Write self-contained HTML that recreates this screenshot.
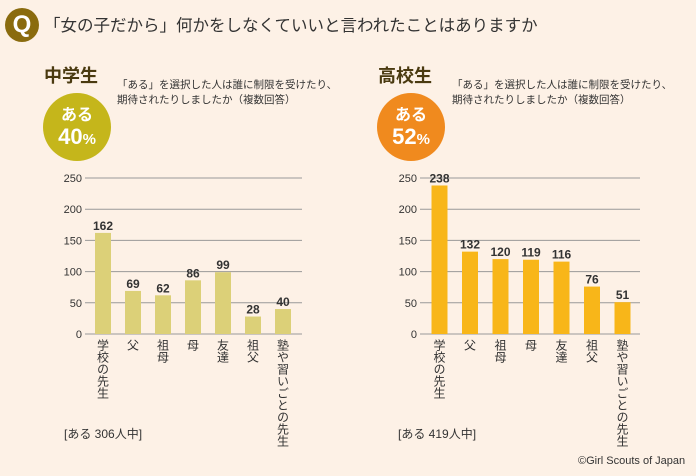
<!DOCTYPE html>
<html><head><meta charset="utf-8"><style>
body{margin:0;width:696px;height:476px;background:#fdf1e6;font-family:"Liberation Sans","Noto Sans CJK JP",sans-serif;position:relative;overflow:hidden;color:#333}
.a{position:absolute}
</style></head><body>
<div class="a" style="left:5px;top:8px;width:34px;height:34px;border-radius:50%;background:#8a6b0e;color:#fff;font-weight:bold;font-size:24px;line-height:34px;text-align:center">Q</div>
<div class="a" style="left:44px;top:12px;font-size:16.5px;color:#333;white-space:nowrap">「女の子だから」何かをしなくていいと言われたことはありますか</div>

<div class="a" style="left:44px;top:62px;font-size:18px;font-weight:bold;color:#4a3a10">中学生</div>
<div class="a" style="left:117px;top:78px;font-size:10.5px;line-height:15px;white-space:nowrap">「ある」を選択した人は誰に制限を受けたり、<br>期待されたりしましたか（複数回答）</div>
<div class="a" style="left:43px;top:93px;width:68px;height:68px;border-radius:50%;background:#c5b61b;color:#fff;text-align:center;font-weight:bold"><div style="font-size:16px;margin-top:8px">ある</div><div style="font-size:22px;line-height:24px">40<span style="font-size:15px">%</span></div></div>

<div class="a" style="left:378px;top:62px;font-size:18px;font-weight:bold;color:#4a3a10">高校生</div>
<div class="a" style="left:452px;top:78px;font-size:10.5px;line-height:15px;white-space:nowrap">「ある」を選択した人は誰に制限を受けたり、<br>期待されたりしましたか（複数回答）</div>
<div class="a" style="left:377px;top:93px;width:68px;height:68px;border-radius:50%;background:#f08a1e;color:#fff;text-align:center;font-weight:bold"><div style="font-size:16px;margin-top:8px">ある</div><div style="font-size:22px;line-height:24px">52<span style="font-size:15px">%</span></div></div>

<div class="a" style="left:64px;top:425px;font-size:12px">[ある 306人中]</div>
<div class="a" style="left:398px;top:425px;font-size:12px">[ある 419人中]</div>
<div class="a" style="left:578px;top:455px;font-size:11px">©Girl Scouts of Japan</div>

<svg class="a" id="svg" style="left:0;top:0" width="696" height="476" xmlns="http://www.w3.org/2000/svg"></svg>
<script>
const categories=["学校の先生","父","祖母","母","友達","祖父","塾や習いごとの先生"];
const jhsValues=[162,69,62,86,99,28,40];
const hsValues=[238,132,120,119,116,76,51];
const ticks=[0,50,100,150,200,250];
const svg=document.getElementById('svg');
const NS='http://www.w3.org/2000/svg';
function mk(t,a){const e=document.createElementNS(NS,t);for(const k in a)e.setAttribute(k,a[k]);svg.appendChild(e);return e;}
function chart(vals,x0,x1,firstX,step,color,pre){
  const y=v=>334-v*156/250;
  ticks.forEach(t=>{
    const l=mk('line',{x1:x0,x2:x1,y1:y(t),y2:y(t),stroke:'#999','stroke-width':1});
    
    
    const tx=mk('text',{x:x0-3,y:y(t)+4,'text-anchor':'end','font-size':11,fill:'#333'});
    tx.textContent=t;
    
    
  });
  vals.forEach((v,i)=>{
    const cx=firstX+i*step;
    const r=mk('rect',{x:cx-8,y:y(v),width:16,height:334-y(v),fill:color});
    
    
    const t=mk('text',{x:cx,y:y(v)-3,'text-anchor':'middle','font-size':12,'font-weight':'bold',fill:'#333'});
    t.textContent=v;
    
    
    const c=mk('text',{x:cx,y:339,'font-size':12,fill:'#333','style':'writing-mode:vertical-rl;font-family:"Noto Sans CJK JP",sans-serif'});
    c.textContent=categories[i];
    
    
  });
}
chart(jhsValues,85,302,103,30,'#dcd078','jhs');
chart(hsValues,420,640,439.5,30.5,'#f8b619','hs');
</script>
</body></html>
